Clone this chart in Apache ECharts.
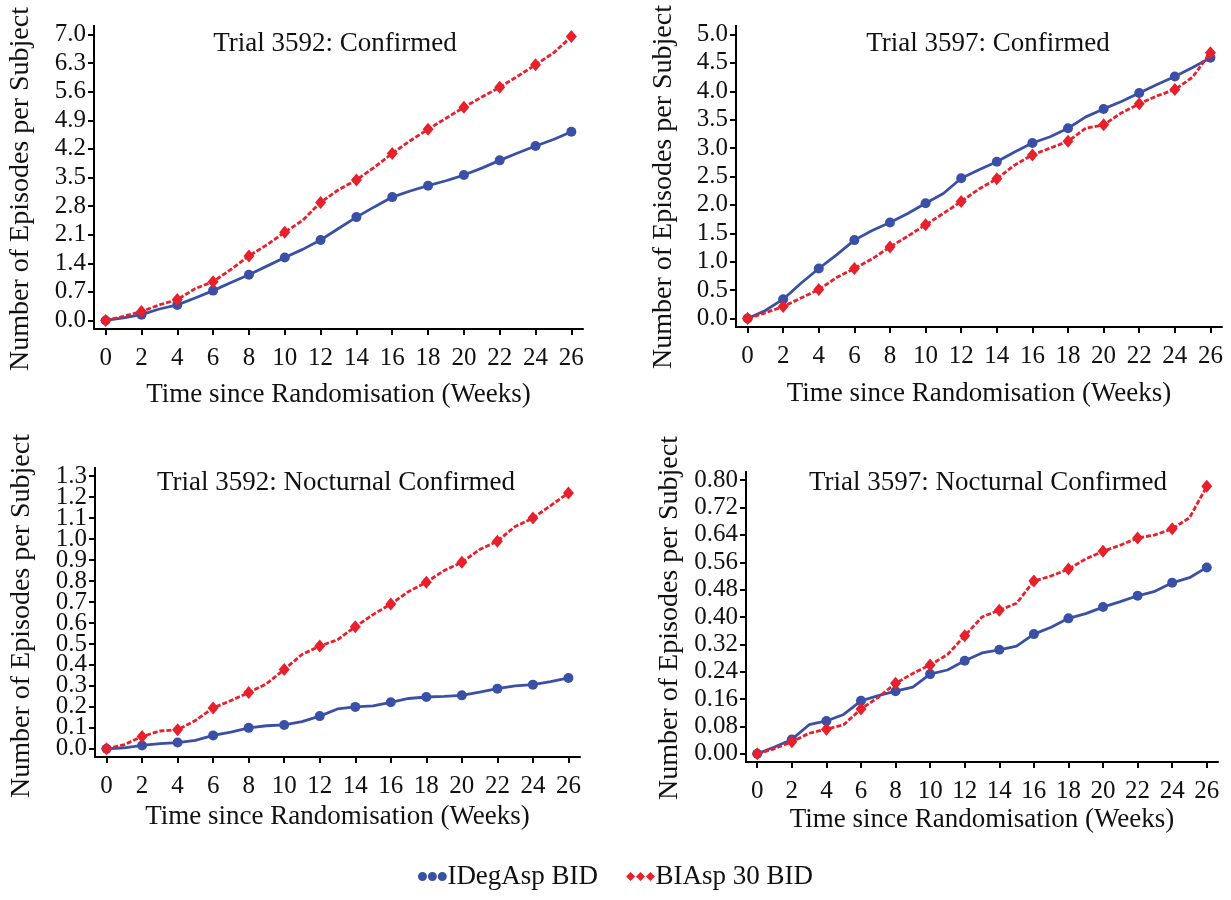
<!DOCTYPE html>
<html>
<head>
<meta charset="utf-8">
<script src="https://cdn.jsdelivr.net/npm/echarts@6/dist/echarts.min.js"></script>
<style>
html,body{margin:0;padding:0;background:#fff;}
#c{width:1231px;height:900px;}
</style>
</head>
<body>
<div id="c"></div>
<script>
// ---------------- data ----------------
const weeks = [0,1,2,3,4,5,6,7,8,9,10,11,12,13,14,15,16,17,18,19,20,21,22,23,24,25,26];
const xTicks = [0,2,4,6,8,10,12,14,16,18,20,22,24,26];

const titles = ['Trial 3592: Confirmed','Trial 3597: Confirmed','Trial 3592: Nocturnal Confirmed','Trial 3597: Nocturnal Confirmed'];
const seriesNames = ['IDegAsp BID','BIAsp 30 BID'];
const xAxisTitle = 'Time since Randomisation (Weeks)';
const yAxisTitle = 'Number of Episodes per Subject';

// Trial 3592: Confirmed
const t3592ConfIDeg  = [0,0.06,0.14,0.28,0.38,0.55,0.73,0.93,1.12,1.33,1.54,1.74,1.97,2.25,2.53,2.78,3.02,3.17,3.30,3.42,3.56,3.73,3.92,4.10,4.27,4.43,4.62];
const t3592ConfBIAsp = [0,0.10,0.22,0.38,0.51,0.78,0.95,1.25,1.58,1.85,2.16,2.45,2.89,3.20,3.44,3.75,4.09,4.40,4.68,4.95,5.22,5.47,5.71,5.98,6.26,6.55,6.95];
const yTicks1 = [0.0,0.7,1.4,2.1,2.8,3.5,4.2,4.9,5.6,6.3,7.0];

// Trial 3597: Confirmed
const t3597ConfIDeg  = [0,0.14,0.34,0.62,0.88,1.12,1.38,1.55,1.69,1.85,2.03,2.20,2.47,2.62,2.76,2.93,3.09,3.20,3.35,3.55,3.69,3.82,3.97,4.12,4.26,4.42,4.59];
const t3597ConfBIAsp = [0,0.10,0.21,0.36,0.51,0.72,0.88,1.05,1.26,1.45,1.65,1.85,2.06,2.28,2.46,2.70,2.88,3.00,3.12,3.35,3.41,3.62,3.78,3.92,4.03,4.25,4.68];
const yTicks2 = [0.0,0.5,1.0,1.5,2.0,2.5,3.0,3.5,4.0,4.5,5.0];

// Trial 3592: Nocturnal Confirmed
const t3592NocIDeg  = [0,0.005,0.016,0.025,0.030,0.040,0.064,0.080,0.100,0.110,0.114,0.130,0.156,0.190,0.200,0.205,0.222,0.240,0.247,0.250,0.255,0.270,0.287,0.300,0.306,0.320,0.338];
const t3592NocBIAsp = [0,0.020,0.059,0.085,0.091,0.135,0.195,0.230,0.268,0.310,0.378,0.450,0.490,0.520,0.582,0.640,0.690,0.750,0.794,0.850,0.890,0.950,0.990,1.060,1.100,1.160,1.220];
const yTicks3 = [0.0,0.1,0.2,0.3,0.4,0.5,0.6,0.7,0.8,0.9,1.0,1.1,1.2,1.3];

// Trial 3597: Nocturnal Confirmed
const t3597NocIDeg  = [0,0.020,0.042,0.085,0.096,0.115,0.155,0.170,0.183,0.195,0.233,0.245,0.272,0.295,0.304,0.315,0.350,0.370,0.396,0.410,0.429,0.445,0.462,0.475,0.500,0.515,0.545];
const t3597NocBIAsp = [0,0.015,0.035,0.060,0.072,0.085,0.131,0.165,0.206,0.235,0.260,0.290,0.345,0.400,0.420,0.440,0.505,0.520,0.540,0.570,0.592,0.610,0.631,0.640,0.658,0.690,0.782];
const yTicks4 = [0.00,0.08,0.16,0.24,0.32,0.40,0.48,0.56,0.64,0.72,0.80];

// ---------------- layout / style ----------------
const FONT = "'Liberation Serif','Times New Roman',serif";
const BLUE = '#3a50a6';
const RED = '#e8202c';
const panels = [
  {grid:{left:94, top:26, width:489, height:303}, blue:t3592ConfIDeg, red:t3592ConfBIAsp, ticks:yTicks1, dec:1, tx:330, ty:25, ng:52, yx:21, yy:189},
  {grid:{left:736, top:26, width:486, height:301}, blue:t3597ConfIDeg, red:t3597ConfBIAsp, ticks:yTicks2, dec:1, tx:983, ty:25, ng:53, yx:664, yy:187},
  {grid:{left:95, top:468, width:485, height:289}, blue:t3592NocIDeg, red:t3592NocBIAsp, ticks:yTicks3, dec:1, tx:331, ty:464, ng:46, yx:22, yy:616},
  {grid:{left:746, top:472, width:472, height:290}, blue:t3597NocIDeg, red:t3597NocBIAsp, ticks:yTicks4, dec:2, tx:983, ty:464, ng:44, yx:670, yy:618}
];

const axisLine = {show:true, onZero:false, lineStyle:{color:'#000', width:2}};
const axisTickStyle = {show:true, inside:false, length:6, lineStyle:{color:'#000', width:2}};
const grids=[], xAxes=[], yAxes=[], series=[], titleArr=[], graphics=[];

function markerSymbol(sym){
  return function(value){ return (Math.round(value[0]) % 2 === 0) ? sym : 'none'; };
}

panels.forEach((p,i)=>{
  grids.push(Object.assign({containLabel:false, outerBoundsMode:'none'}, p.grid));
  const xr = xTicks[xTicks.length-1]-xTicks[0];
  xAxes.push({
    type:'value', gridIndex:i, position:'bottom', min:-0.025*xr, max:xTicks[xTicks.length-1]+0.025*xr,
    axisLine:axisLine,
    axisTick:Object.assign({customValues:xTicks}, axisTickStyle),
    axisLabel:{customValues:xTicks, color:'#111', fontFamily:FONT, fontSize:25, margin:17,
      showMinLabel:true, showMaxLabel:true, hideOverlap:false},
    splitLine:{show:false},
    name:xAxisTitle, nameLocation:'middle', nameGap:p.ng,
    nameTextStyle:{color:'#111', fontFamily:FONT, fontSize:27}
  });
  const yr = p.ticks[p.ticks.length-1]-p.ticks[0];
  // tick labels are split over two coincident, identical axes (even / odd positions)
  // so tightly packed labels are never dropped by overlap handling
  const evenTicks = p.ticks.filter((t,k)=>k%2===0);
  const oddTicks = p.ticks.filter((t,k)=>k%2===1);
  [evenTicks, oddTicks].forEach((tk)=>{
    yAxes.push({
      type:'value', gridIndex:i, position:'left', offset:0,
      min:-0.03*yr, max:p.ticks[p.ticks.length-1]+0.03*yr,
      axisLine:axisLine,
      axisTick:Object.assign({customValues:tk}, axisTickStyle),
      axisLabel:{customValues:tk, color:'#111', fontFamily:FONT, fontSize:25, margin:8,
        showMinLabel:true, showMaxLabel:true, hideOverlap:false,
        formatter:(v)=>Number(v).toFixed(p.dec)},
      splitLine:{show:false}
    });
  });
  graphics.push({type:'text', x:p.yx, y:p.yy, rotation:Math.PI/2,
    style:{text:yAxisTitle, font:'28px ' + FONT, fill:'#111', align:'center', verticalAlign:'middle'}});
  titleArr.push({text:titles[i], left:p.tx, top:p.ty, textAlign:'center',
    textStyle:{fontFamily:FONT, fontSize:27, fontWeight:'normal', color:'#111'}});
  series.push({
    name:seriesNames[0], type:'line', xAxisIndex:i, yAxisIndex:2*i,
    data:weeks.map((w,k)=>[w,p.blue[k]]),
    symbol:markerSymbol('circle'), symbolSize:10, showAllSymbol:true,
    lineStyle:{color:BLUE, width:2.8}, itemStyle:{color:BLUE},
    z:3, animation:false
  });
  series.push({
    name:seriesNames[1], type:'line', xAxisIndex:i, yAxisIndex:2*i,
    data:weeks.map((w,k)=>[w,p.red[k]]),
    symbol:markerSymbol('diamond'), symbolSize:[11,13], showAllSymbol:true,
    lineStyle:{color:RED, width:2.8, type:[5,2]}, itemStyle:{color:RED},
    z:4, animation:false
  });
});

const chart = echarts.init(document.getElementById('c'), null, {renderer:'canvas'});
chart.setOption({
  backgroundColor:'#fff',
  animation:false,
  title:titleArr,
  graphic:graphics,
  grid:grids, xAxis:xAxes, yAxis:yAxes, series:series,
  legend:{
    bottom:5, left:'center', itemGap:28, itemWidth:30, itemHeight:9,
    textStyle:{fontFamily:FONT, fontSize:27, color:'#111', padding:[0,0,0,-5]},
    data:[
      {name:seriesNames[0], icon:'path://M0,5a5,5 0 1,0 10,0a5,5 0 1,0 -10,0M11,5a5,5 0 1,0 10,0a5,5 0 1,0 -10,0M22,5a5,5 0 1,0 10,0a5,5 0 1,0 -10,0', itemStyle:{color:BLUE}},
      {name:seriesNames[1], icon:'path://M5,0L10,5L5,10L0,5ZM16,0L21,5L16,10L11,5ZM27,0L32,5L27,10L22,5Z', itemStyle:{color:RED}}
    ]
  }
});
</script>
</body>
</html>
